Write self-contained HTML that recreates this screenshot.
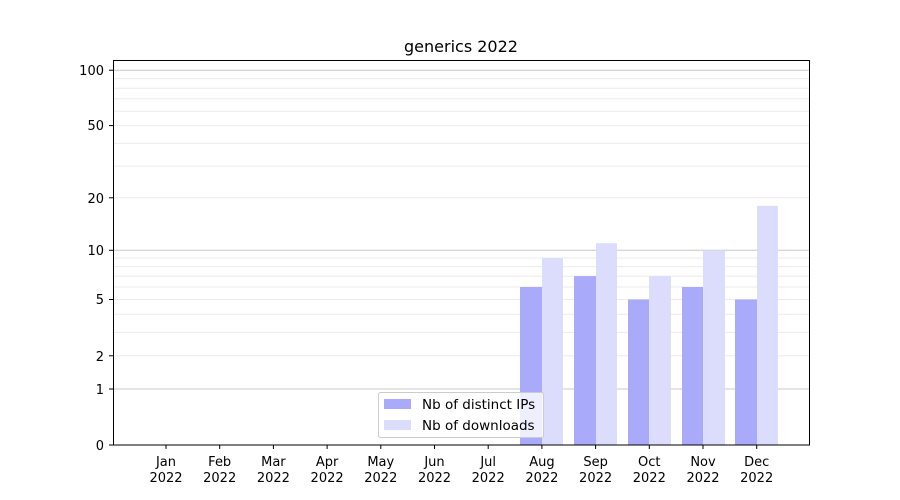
<!DOCTYPE html>
<html><head><style>body{margin:0;background:#fff}svg{display:block;font-family:"DejaVu Sans","Liberation Sans",sans-serif}</style></head><body>
<svg width="900" height="500" viewBox="0 0 900 500">
<g stroke="#ebebeb" stroke-width="1">
<line x1="113" x2="810" y1="355.8" y2="355.8"/><line x1="113" x2="810" y1="332.4" y2="332.4"/><line x1="113" x2="810" y1="314.3" y2="314.3"/><line x1="113" x2="810" y1="299.5" y2="299.5"/><line x1="113" x2="810" y1="287" y2="287"/><line x1="113" x2="810" y1="276.1" y2="276.1"/><line x1="113" x2="810" y1="266.6" y2="266.6"/><line x1="113" x2="810" y1="258" y2="258"/>
<line x1="113" x2="810" y1="197.8" y2="197.8"/><line x1="113" x2="810" y1="166.1" y2="166.1"/><line x1="113" x2="810" y1="143.4" y2="143.4"/><line x1="113" x2="810" y1="125.6" y2="125.6"/><line x1="113" x2="810" y1="111.2" y2="111.2"/><line x1="113" x2="810" y1="98.8" y2="98.8"/><line x1="113" x2="810" y1="88.2" y2="88.2"/><line x1="113" x2="810" y1="78.6" y2="78.6"/>
</g>
<g stroke="#c8c8c8"><line x1="113" x2="810" y1="389" y2="389"/><line x1="113" x2="810" y1="250.3" y2="250.3"/><line x1="113" x2="810" y1="70.2" y2="70.2"/></g>
<g fill="#aaaafa">
<rect x="520" y="287" width="22" height="158"/><rect x="574" y="276.1" width="22" height="168.9"/><rect x="628" y="299.5" width="21" height="145.5"/><rect x="682" y="287" width="21" height="158"/><rect x="735" y="299.5" width="22" height="145.5"/>
</g>
<g fill="#dcdcfd">
<rect x="542" y="258" width="21" height="187"/><rect x="596" y="243.2" width="21" height="201.8"/><rect x="649" y="276.1" width="22" height="168.9"/><rect x="703" y="250.3" width="22" height="194.7"/><rect x="757" y="205.8" width="21" height="239.2"/>
</g>
<rect x="378.5" y="392.5" width="165" height="45" rx="2" fill="#fff" fill-opacity="0.8" stroke="#ccc"/>
<rect x="384" y="399" width="27" height="10" fill="#aaaafa"/>
<rect x="384" y="420" width="27" height="10" fill="#dcdcfd"/>
<g font-size="13.5" fill="#000"><text x="422" y="409">Nb of distinct IPs</text><text x="422" y="430">Nb of downloads</text></g>
<rect x="113.5" y="60.5" width="696" height="384.5" fill="none" stroke="#000"/>
<g stroke="#000">
<line x1="109" x2="113" y1="445" y2="445"/><line x1="109" x2="113" y1="389" y2="389"/><line x1="109" x2="113" y1="355.8" y2="355.8"/><line x1="109" x2="113" y1="299.5" y2="299.5"/><line x1="109" x2="113" y1="250.3" y2="250.3"/><line x1="109" x2="113" y1="197.8" y2="197.8"/><line x1="109" x2="113" y1="125.6" y2="125.6"/><line x1="109" x2="113" y1="70.2" y2="70.2"/>
</g>
<g font-size="13" text-anchor="end"><text x="104" y="450">0</text><text x="104" y="394">1</text><text x="104" y="361">2</text><text x="104" y="304">5</text><text x="104" y="255">10</text><text x="104" y="203">20</text><text x="104" y="130">50</text><text x="104" y="75">100</text></g>
<g stroke="#000">
<line x1="166" x2="166" y1="445" y2="449"/><line x1="219.7" x2="219.7" y1="445" y2="449"/><line x1="273.4" x2="273.4" y1="445" y2="449"/><line x1="327.1" x2="327.1" y1="445" y2="449"/><line x1="380.8" x2="380.8" y1="445" y2="449"/><line x1="434.5" x2="434.5" y1="445" y2="449"/><line x1="488.2" x2="488.2" y1="445" y2="449"/><line x1="541.9" x2="541.9" y1="445" y2="449"/><line x1="595.6" x2="595.6" y1="445" y2="449"/><line x1="649.3" x2="649.3" y1="445" y2="449"/><line x1="703" x2="703" y1="445" y2="449"/><line x1="756.7" x2="756.7" y1="445" y2="449"/>
</g>
<g font-size="13" text-anchor="middle">
<text x="166" y="466">Jan</text><text x="166" y="482">2022</text>
<text x="219.7" y="466">Feb</text><text x="219.7" y="482">2022</text>
<text x="273.4" y="466">Mar</text><text x="273.4" y="482">2022</text>
<text x="327.1" y="466">Apr</text><text x="327.1" y="482">2022</text>
<text x="380.8" y="466">May</text><text x="380.8" y="482">2022</text>
<text x="434.5" y="466">Jun</text><text x="434.5" y="482">2022</text>
<text x="488.2" y="466">Jul</text><text x="488.2" y="482">2022</text>
<text x="541.9" y="466">Aug</text><text x="541.9" y="482">2022</text>
<text x="595.6" y="466">Sep</text><text x="595.6" y="482">2022</text>
<text x="649.3" y="466">Oct</text><text x="649.3" y="482">2022</text>
<text x="703" y="466">Nov</text><text x="703" y="482">2022</text>
<text x="756.7" y="466">Dec</text><text x="756.7" y="482">2022</text>
</g>
<text x="461" y="52" font-size="16" text-anchor="middle">generics 2022</text>
</svg>
</body></html>
